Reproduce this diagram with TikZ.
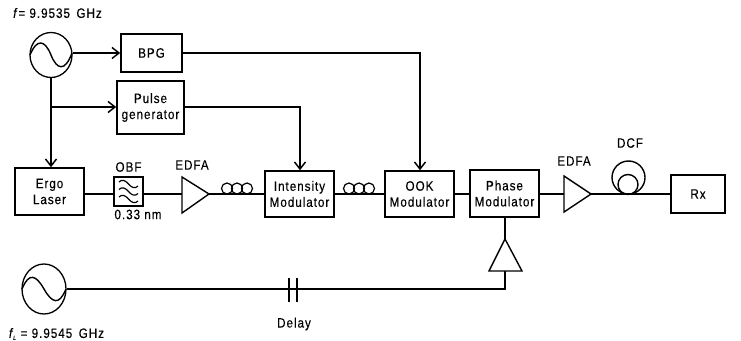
\documentclass[tikz,border=0pt]{standalone}
\usepackage{fontspec}
\setmainfont{Liberation Sans}
\usetikzlibrary{arrows.meta,shapes.geometric}
\newfontfamily\lblfont[FakeStretch=0.86,FakeBold=0.25,LetterSpace=7]{Liberation Sans}
\tikzset{
  box/.style={draw,line width=1.6pt,minimum width=0,inner sep=0pt,align=center,font=\lbl},
  txt/.style={inner sep=0pt,font=\lbl,align=center},
  wire/.style={line width=1.5pt},
  arr/.style={wire,-{Straight Barb[length=7pt,width=11pt,line width=1.5pt]}},
  osc/.style={draw,ellipse,line width=1.3pt,inner sep=0pt},
  thin part/.style={line width=1.4pt},
  coil/.style={line width=1.2pt},
}
\newcommand{\lbl}{\lblfont\fontsize{13.6}{16}\selectfont}
\begin{document}
\begin{tikzpicture}[x=1pt,y=-1pt]
\useasboundingbox (0,0) rectangle (741,340);
% oscillators
\node[osc,minimum width=42pt,minimum height=45pt] (osca) at (51,55) {};
\node[osc,minimum width=44pt,minimum height=50pt] (oscb) at (44,289) {};
\draw[thin part] (30,55) .. controls (37,38) and (45,40) .. (51,55) .. controls (57,70) and (65,72) .. (72,53);
\draw[thin part] (22,289) .. controls (29,272) and (36,275) .. (44,289) .. controls (52,303) and (59,306) .. (66,289);
% boxes
\node[box,minimum width=61pt,minimum height=38pt] (bpg) at (151.5,53) {BPG};
\node[box,minimum width=67pt,minimum height=53pt] (pulse) at (150.5,107.5) {Pulse\\generator};
\node[box,minimum width=69pt,minimum height=47pt] (ergo) at (49.5,191.5) {Ergo\\Laser};
\node[box,minimum width=29pt,minimum height=29pt] (obf) at (128.5,191.5) {};
\node[box,minimum width=69pt,minimum height=46pt] (im) at (299.5,194) {Intensity\\Modulator};
\node[box,minimum width=69pt,minimum height=46pt] (ook) at (419.5,194) {OOK\\Modulator};
\node[box,minimum width=69pt,minimum height=47pt] (pm) at (504.5,193.5) {Phase\\Modulator};
\node[box,minimum width=54pt,minimum height=38pt] (rx) at (698,194) {Rx};
% named points
\coordinate (edfaL) at (182,194); \coordinate (edfaT) at (209,194);
\coordinate (edfbL) at (564,194); \coordinate (edfbT) at (591,194);
\coordinate (ampT) at (505,239); \coordinate (ampB) at (505,271);
\coordinate (tapa) at (51,107);
\coordinate (bend) at (300,107);
\coordinate (bendb) at (420,53);
\coordinate (corner) at (505,289);
% amplifiers
\draw[thin part,line join=miter] (182,177) -- (209,194) -- (182,213) -- cycle;
\draw[thin part,line join=miter] (564,176) -- (591,194) -- (564,212) -- cycle;
\draw[thin part,line join=miter] (505,239) -- (522,271) -- (489,271) -- cycle;
% wires
\draw[arr] (osca.east |- bpg.west) -- (bpg.west);
\draw[arr] (osca.south) -- (ergo.north -| osca.south);
\draw[arr] (tapa) -- (tapa -| pulse.west);
\draw[arr] (pulse.east |- bend) -- (bend) -- (bend |- im.north);
\draw[arr] (bpg.east) -- (bendb) -- (bendb |- ook.north);
\draw[wire] (ergo.east |- edfaL) -- (edfaL -| obf.west);
\draw[wire] (edfaL -| obf.east) -- (edfaL);
\draw[wire] (edfaT) -- (im.west);
\draw[wire] (im.east) -- (ook.west);
\draw[wire] (ook.east) -- (pm.west |- ook.east);
\draw[wire] (pm.east |- edfbL) -- (edfbL);
\draw[wire] (edfbT) -- (rx.west);
\draw[wire] (pm.south -| ampT) -- (ampT);
\draw[wire] (ampB) -- (corner) -- (oscb.east);
% polarization coils
\foreach \cx in {227,237,247,349,359,369}
  \draw[coil] (\cx,188.5) circle (5.5pt);
% DCF
\draw[thin part] (628.5,177.5) circle (16.5pt);
\draw[thin part] (628,184.5) circle (10pt);
% delay
\draw[thin part] (289,278) -- (289,302);
\draw[thin part] (297,278) -- (297,302);
% filter symbol
\foreach \yy in {184,191.5,199}
  \draw[line width=1.2pt] (119,\yy-2) .. controls (122,\yy-5) and (125,\yy-4) .. (128.5,\yy) .. controls (132,\yy+4) and (135,\yy+5) .. (138,\yy+2);
% labels
\node[txt] (lf) at (57.5,13) {\textit{f}= 9.9535 \,GHz};
\node[txt] (lfl) at (56.5,334) {\textit{f}\kern-1pt\raisebox{-2pt}{\fontsize{6}{6}\selectfont\textit{L}} = 9.9545 \,GHz};
\node[txt] (lobf) at (128.5,167) {OBF};
\node[txt] (lnm) at (138,214.5) {0.33 nm};
\node[txt] (ledfa) at (192,165) {EDFA};
\node[txt] (ledfb) at (574,161) {EDFA};
\node[txt] (ldcf) at (630,143) {DCF};
\node[txt] (ldelay) at (294,324) {Delay};
\end{tikzpicture}
\end{document}
